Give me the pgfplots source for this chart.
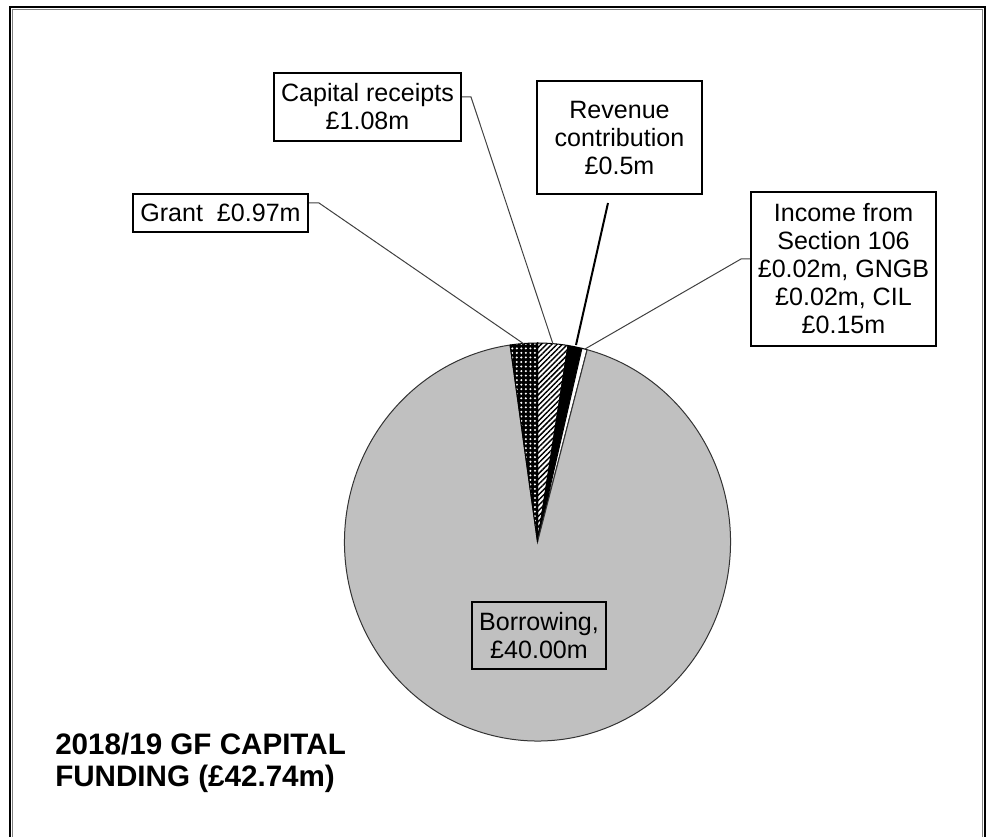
\documentclass[border=0pt]{standalone}
\usepackage{pgfplots}
\pgfplotsset{compat=1.18}
\usepackage{pgfplotstable}
\usepackage{fontspec}
\setmainfont{Liberation Sans}
\usetikzlibrary{patterns.meta}
\definecolor{borrowgray}{HTML}{C0C0C0}
\definecolor{leader}{HTML}{404040}
\pgfplotstableread{
slice value
CapitalReceipts 1.08
Revenue 0.50
Income 0.19
Borrowing 40.00
Grant 0.97
}\piedata
\newcommand\lab{\fontsize{18.8pt}{21pt}\selectfont}
\newcommand\ttl{\fontsize{22.2pt}{24pt}\selectfont\bfseries}
\newcommand\pieslice[3]{%
  \path[#3] (axis cs:537.5,295) -- +(#1:144.75pt and 149.25pt)
    arc[start angle=#1, end angle=#2, x radius=144.75pt, y radius=149.25pt] -- cycle;}
\begin{document}
\begin{tikzpicture}
\pgfplotstablegetelem{0}{value}\of\piedata \let\va\pgfplotsretval
\pgfplotstablegetelem{1}{value}\of\piedata \let\vb\pgfplotsretval
\pgfplotstablegetelem{2}{value}\of\piedata \let\vc\pgfplotsretval
\pgfplotstablegetelem{3}{value}\of\piedata \let\vd\pgfplotsretval
\pgfplotstablegetelem{4}{value}\of\piedata \let\ve\pgfplotsretval
\pgfmathsetmacro\tot{\va+\vb+\vc+\vd+\ve}
\pgfmathsetmacro\aA{90}
\pgfmathsetmacro\aB{\aA-360*\va/\tot}
\pgfmathsetmacro\aC{\aB-360*\vb/\tot}
\pgfmathsetmacro\aD{\aC-360*\vc/\tot}
\pgfmathsetmacro\aE{\aD-360*\vd/\tot}
\pgfmathsetmacro\aF{\aE-360*\ve/\tot}
\begin{axis}[x=0.75pt, y=0.75pt, xmin=0, xmax=992, ymin=0, ymax=837,
  hide axis, scale only axis, clip=false]
% bounding box
\path (axis cs:0,0) rectangle (axis cs:992,837);
% outer frame
\draw[black, line width=1.5pt] (axis cs:9.5,0) -- (axis cs:9.5,829.5) -- (axis cs:984.5,829.5) -- (axis cs:984.5,0);
\draw[gray, line width=0.75pt] (axis cs:12,0) -- (axis cs:12,827) -- (axis cs:982,827) -- (axis cs:982,0);
% slices
\pieslice{\aA}{\aB}{preaction={fill=white}, pattern={Lines[angle=45,distance=2.8pt,line width=1.1pt]}, pattern color=black, draw=black, line width=0.75pt}
\pieslice{\aB}{\aC}{fill=black, draw=black, line width=0.75pt}
\pieslice{\aC}{\aD}{fill=white, draw=black, line width=0.75pt}
\pieslice{\aD}{\aE}{fill=borrowgray, draw=black!80, line width=0.75pt}
\pieslice{\aE}{\aF}{preaction={fill=black}, pattern={Dots[distance=3.4pt,radius=0.85pt]}, pattern color=white, draw=black, line width=0.75pt}
% leader lines
\draw[leader, line width=0.75pt] (axis cs:308,634) -- (axis cs:319,634) -- (axis cs:524,493);
\draw[leader, line width=0.75pt] (axis cs:461,740) -- (axis cs:471,740) -- (axis cs:553,493);
\draw[black, line width=1.5pt] (axis cs:608,634) -- (axis cs:576,492);
\draw[leader, line width=0.75pt] (axis cs:751,578) -- (axis cs:741,578) -- (axis cs:585,488);
% labels
\node[draw, line width=1.5pt, fill=white, minimum width=140.25pt, minimum height=51pt, inner sep=0pt, align=center, font=\lab] at (axis cs:367.5,730) {Capital receipts\\£1.08m};
\node[draw, line width=1.5pt, fill=white, minimum width=131.25pt, minimum height=28.5pt, inner sep=0pt, align=center, font=\lab] at (axis cs:220.5,624) {Grant\ \ £0.97m};
\node[draw, line width=1.5pt, fill=white, minimum width=123.75pt, minimum height=84.75pt, inner sep=0pt, align=center, font=\lab] at (axis cs:619.5,699) {Revenue\\contribution\\£0.5m};
\node[draw, line width=1.5pt, fill=white, minimum width=138.75pt, minimum height=115.5pt, inner sep=0pt, align=center, font=\lab] at (axis cs:843.5,568) {Income from\\Section 106\\£0.02m, GNGB\\£0.02m, CIL\\£0.15m};
\node[draw, line width=1.5pt, minimum width=100.5pt, minimum height=50.25pt, inner sep=0pt, align=center, font=\lab] at (axis cs:539,201.5) {Borrowing,\\£40.00m};
% title
\node[anchor=base west, inner sep=0pt, font=\ttl] at (axis cs:55,82) {2018/19 GF CAPITAL};
\node[anchor=base west, inner sep=0pt, font=\ttl] at (axis cs:55,50) {FUNDING (£42.74m)};
\end{axis}
\end{tikzpicture}
\end{document}
